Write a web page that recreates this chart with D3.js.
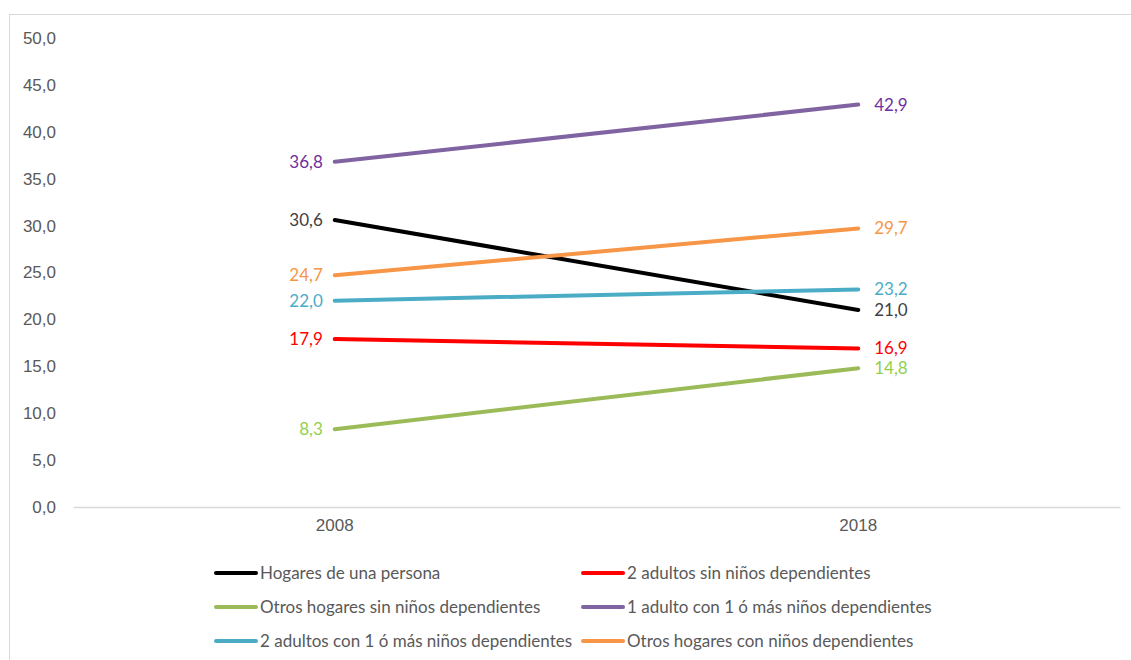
<!DOCTYPE html>
<html lang="es">
<head>
<meta charset="UTF-8">
<title>Hogares</title>
<script src="https://d3js.org/d3.v7.min.js"></script>
<style>
  body { margin: 0; background: #fff; font-family: Lato, "Open Sans", sans-serif; }
  .tick text { fill: #595959; font-size: 17px; }
  .lbl { font-size: 17px; }
  .leg text { fill: #595959; font-size: 17px; }
</style>
</head>
<body>
<svg id="chart" width="1131" height="660"></svg>
<script>
const years = ["2008", "2018"];
const seriesNames = [
  "Hogares de una persona",
  "2 adultos sin niños dependientes",
  "Otros hogares sin niños dependientes",
  "1 adulto con 1 ó más niños dependientes",
  "2 adultos con 1 ó más niños dependientes",
  "Otros hogares con niños dependientes"
];
const hogaresUna = [30.6, 21.0];
const dosAdultosSin = [17.9, 16.9];
const otrosSin = [8.3, 14.8];
const unAdultoCon = [36.8, 42.9];
const dosAdultosCon = [22.0, 23.2];
const otrosCon = [24.7, 29.7];
const yTicks = [0, 5, 10, 15, 20, 25, 30, 35, 40, 45, 50];

const lineColors = ["#000000", "#ff0000", "#9bbb59", "#8064a2", "#4bacc6", "#f79646"];
const labelColors = ["#404040", "#ff0000", "#92d050", "#7030a0", "#4bacc6", "#f79646"];
const allValues = [hogaresUna, dosAdultosSin, otrosSin, unAdultoCon, dosAdultosCon, otrosCon];

const svg = d3.select("#chart");

// chart frame
svg.append("rect")
  .attr("x", 9.5).attr("y", 14.5)
  .attr("width", 1140).attr("height", 660)
  .attr("fill", "none").attr("stroke", "#d9d9d9");

const x = d3.scaleBand().domain(years).range([73, 1120]);
const y = d3.scaleLinear().domain([0, 50]).range([507, 38]);
const fmt = v => d3.format(".1f")(v).replace(".", ",");

// y axis (labels only)
const yAxis = svg.append("g")
  .attr("transform", "translate(60,0)")
  .call(d3.axisLeft(y).tickValues(yTicks).tickFormat(fmt).tickSize(0).tickPadding(4));
yAxis.select(".domain").remove();

// x axis
const xAxis = svg.append("g")
  .attr("transform", "translate(0,507)")
  .call(d3.axisBottom(x).tickSize(0).tickPadding(12));
xAxis.select(".domain").attr("stroke", "#d9d9d9").attr("stroke-width", 1.5);

const cx = d => x(d) + x.bandwidth() / 2;
const line = d3.line().x((d, i) => cx(years[i])).y(d => y(d));

const series = seriesNames.map((name, i) => ({ name, values: allValues[i], color: lineColors[i], lc: labelColors[i] }));

svg.append("g").selectAll("path")
  .data(series)
  .join("path")
  .attr("d", d => line(d.values))
  .attr("fill", "none")
  .attr("stroke", d => d.color)
  .attr("stroke-width", 4)
  .attr("stroke-linecap", "round");

// data labels
const lbls = svg.append("g");
series.forEach(s => {
  lbls.append("text").attr("class", "lbl")
    .attr("x", cx(years[0]) - 12)
    .attr("y", y(s.values[0]))
    .attr("dy", "0.35em")
    .attr("text-anchor", "end")
    .attr("fill", s.lc)
    .text(fmt(s.values[0]));
  lbls.append("text").attr("class", "lbl")
    .attr("x", cx(years[1]) + 16)
    .attr("y", y(s.values[1]))
    .attr("dy", "0.35em")
    .attr("fill", s.lc)
    .text(fmt(s.values[1]));
});

// legend
const legCols = [215, 582];
const legRows = [573, 607, 641];
const leg = svg.append("g").attr("class", "leg")
  .selectAll("g")
  .data(series)
  .join("g")
  .attr("transform", (d, i) => `translate(${legCols[i % 2]},${legRows[Math.floor(i / 2)]})`);
leg.append("line")
  .attr("x1", 1).attr("x2", 41)
  .attr("stroke", d => d.color)
  .attr("stroke-width", 4)
  .attr("stroke-linecap", "round");
leg.append("text")
  .attr("x", 45)
  .attr("dy", "0.35em")
  .text(d => d.name);
</script>
</body>
</html>
